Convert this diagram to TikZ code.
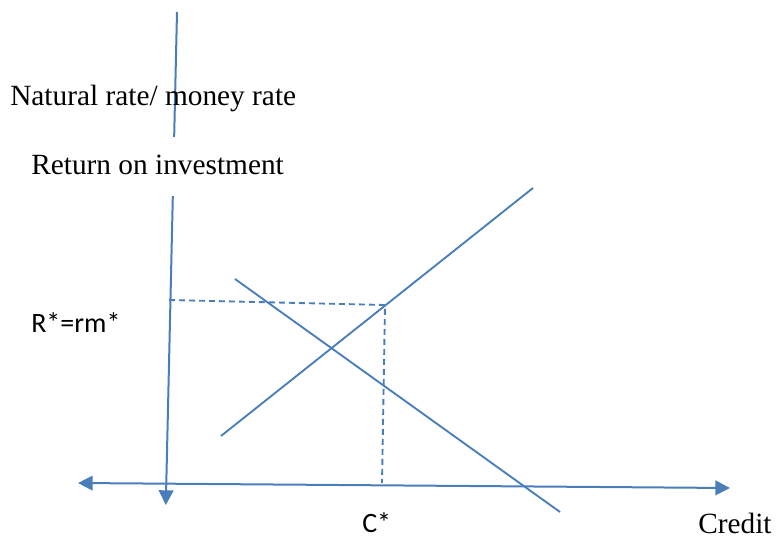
\documentclass[tikz,border=0pt]{standalone}
\usepackage{fontspec}
\setmainfont{Liberation Serif}
\newfontfamily\calib{Carlito}
\usetikzlibrary{arrows.meta}
\definecolor{lineblue}{HTML}{4A7EBB}
\tikzset{
  curve/.style={draw=lineblue, line width=1.4pt},
  guide/.style={draw=lineblue, line width=1.4pt, dash pattern=on 4.5pt off 3pt},
  axis/.style={draw=lineblue, line width=1.5pt, -{Triangle[length=11pt,width=11pt]}},
  serif/.style={font=\fontsize{22}{26}\selectfont, inner sep=0pt, anchor=base west},
  sans/.style={font=\calib\fontsize{21}{25}\selectfont, inner sep=0pt, anchor=base west},
}
\begin{document}
\begin{tikzpicture}[x=0.75pt, y=-0.75pt]
\useasboundingbox (0,0) rectangle (777,541);
% coordinates
\coordinate (ytop) at (177,12);
\coordinate (ybot) at (165.8,505);
\coordinate (xleft) at (78,483);
\coordinate (xright) at (730,488);
\coordinate (yR) at (169,300);
\coordinate (eq) at (385,305);
\coordinate (xC) at (382,483);
\coordinate (s1) at (221,436);
\coordinate (s2) at (533,188);
\coordinate (d1) at (235,279);
\coordinate (d2) at (560,512);
% axes
\draw[axis] (ytop) -- (ybot);
\draw[axis, {Triangle[length=11pt,width=11pt]}-{Triangle[length=11pt,width=11pt]}] (xleft) -- (xright);
% guides
\draw[guide] (yR) -- (eq) -- (xC);
% curves
\draw[curve] (s1) -- (s2);
\draw[curve] (d1) -- (d2);
% labels
\node[serif] (nat) at (10,106) {Natural rate/ money rate};
\node[serif, fill=white, text height=28.5pt, text depth=15.75pt] (ret) at (31,175) {Return on investment};
\node[sans] (rstar) at (31,332.5) {R*=rm*};
\node[sans] (cstar) at (362,532) {C*};
\node[serif] (credit) at (698,533) {Credit};
\end{tikzpicture}
\end{document}
